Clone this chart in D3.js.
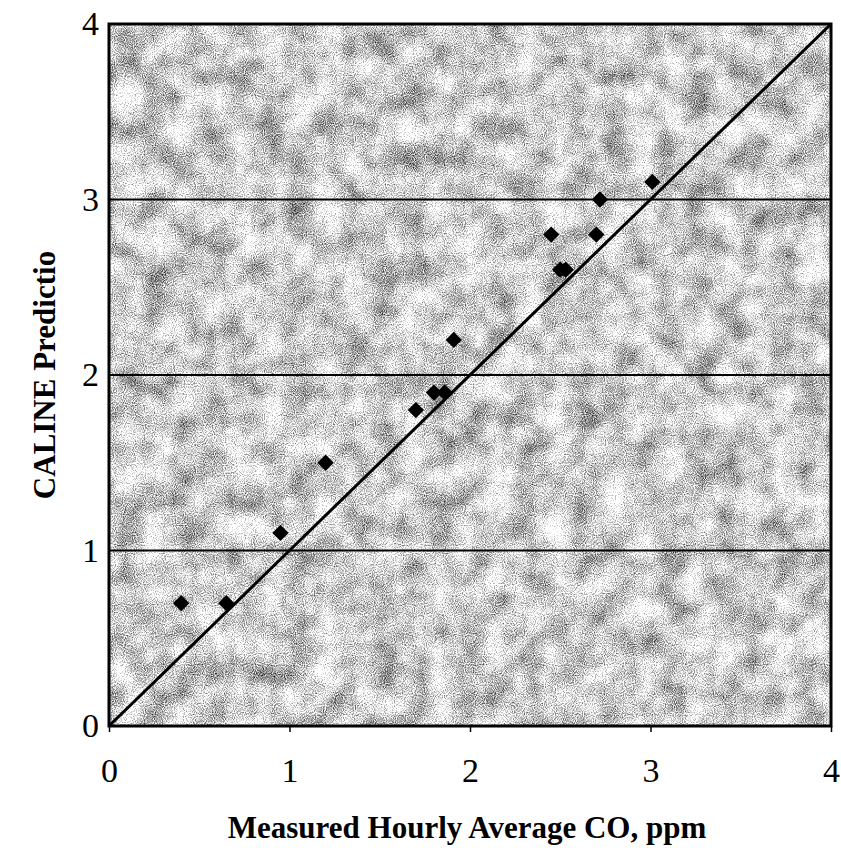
<!DOCTYPE html>
<html lang="en">
<head>
  <meta charset="UTF-8">
  <title>CALINE Prediction vs Measured CO</title>
  <script src="https://d3js.org/d3.v7.min.js"></script>
  <style>
    body { margin: 0; background: #fff; }
    text { font-family: "Liberation Serif", "Times New Roman", serif; fill: #000; }
  </style>
</head>
<body>
<div id="chart"></div>
<script>
  // Data
  const measured = [0.40, 0.65, 0.95, 1.20, 1.70, 1.80, 1.86, 1.91, 2.45, 2.50, 2.53, 2.70, 2.72, 3.01];
  const predicted = [0.70, 0.70, 1.10, 1.50, 1.80, 1.90, 1.90, 2.20, 2.80, 2.60, 2.60, 2.80, 3.00, 3.10];
  const xTicks = [0, 1, 2, 3, 4];
  const yTicks = [0, 1, 2, 3, 4];
  const gridValues = [1, 2, 3];

  const width = 841, height = 852;
  const margin = { top: 24, right: 10, bottom: 126, left: 109 };

  const svg = d3.select("#chart").append("svg")
    .attr("width", width)
    .attr("height", height);

  const x = d3.scaleLinear().domain([0, 4]).range([margin.left, width - margin.right]);
  const y = d3.scaleLinear().domain([0, 4]).range([height - margin.bottom, margin.top]);

  // blotchy, grainy gray background like the scanned plot
  const gray = "1 0 0 0 0  1 0 0 0 0  1 0 0 0 0  0 0 0 0 1";
  const defs = svg.append("defs");
  const f = defs.append("filter").attr("id", "speckle")
    .attr("x", 0).attr("y", 0).attr("width", "100%").attr("height", "100%")
    .attr("color-interpolation-filters", "sRGB");
  f.append("feTurbulence").attr("type", "fractalNoise")
    .attr("baseFrequency", 0.035).attr("numOctaves", 3).attr("seed", 4).attr("result", "b0");
  f.append("feColorMatrix").attr("in", "b0").attr("type", "matrix").attr("values", gray).attr("result", "blotch");
  f.append("feTurbulence").attr("type", "fractalNoise")
    .attr("baseFrequency", 0.9).attr("numOctaves", 1).attr("seed", 9).attr("result", "g0");
  f.append("feColorMatrix").attr("in", "g0").attr("type", "matrix").attr("values", gray).attr("result", "grain");
  f.append("feComposite").attr("in", "blotch").attr("in2", "grain")
    .attr("operator", "arithmetic")
    .attr("k1", 0).attr("k2", 0.5).attr("k3", 0.9).attr("k4", -0.2)
    .attr("result", "mix");
  f.append("feColorMatrix").attr("in", "mix").attr("type", "matrix")
    .attr("values", "1.7 0 0 0 -0.04  1.7 0 0 0 -0.04  1.7 0 0 0 -0.04  0 0 0 0 1");

  svg.append("rect")
    .attr("x", x(0)).attr("y", y(4))
    .attr("width", x(4) - x(0)).attr("height", y(0) - y(4))
    .attr("fill", "#cccccc")
    .attr("filter", "url(#speckle)");

  // horizontal gridlines
  svg.selectAll(".grid")
    .data(gridValues)
    .join("line")
    .attr("class", "grid")
    .attr("x1", x(0)).attr("x2", x(4))
    .attr("y1", d => y(d)).attr("y2", d => y(d))
    .attr("stroke", "#000")
    .attr("stroke-width", 2);

  // 1:1 line
  svg.append("line")
    .attr("x1", x(0)).attr("y1", y(0))
    .attr("x2", x(4)).attr("y2", y(4))
    .attr("stroke", "#000")
    .attr("stroke-width", 3);

  // frame
  svg.append("rect")
    .attr("x", x(0)).attr("y", y(4))
    .attr("width", x(4) - x(0)).attr("height", y(0) - y(4))
    .attr("fill", "none")
    .attr("stroke", "#000")
    .attr("stroke-width", 3);

  // axes
  const xAxis = svg.append("g")
    .attr("transform", `translate(0,${y(0)})`)
    .call(d3.axisBottom(x).tickValues(xTicks).tickSize(6).tickPadding(26).tickFormat(d3.format("d")));
  const yAxis = svg.append("g")
    .attr("transform", `translate(${x(0)},0)`)
    .call(d3.axisLeft(y).tickValues(yTicks).tickSize(0).tickPadding(10).tickFormat(d3.format("d")));

  [xAxis, yAxis].forEach(g => {
    g.attr("font-size", null);
    g.select(".domain").remove();
    g.selectAll(".tick line").attr("stroke", "#000").attr("stroke-width", 1.5);
    g.selectAll(".tick text")
      .attr("font-family", "'Liberation Serif', 'Times New Roman', serif")
      .attr("font-size", 34)
      .attr("fill", "#000");
  });

  // points (diamonds)
  const pts = measured.map((m, i) => ({ m, p: predicted[i] }));
  svg.selectAll(".pt")
    .data(pts)
    .join("path")
    .attr("class", "pt")
    .attr("d", d3.symbol().type(d3.symbolDiamond2).size(170))
    .attr("transform", d => `translate(${x(d.m)},${y(d.p)})`)
    .attr("fill", "#000");

  // axis titles
  svg.append("text")
    .attr("x", (x(0) + x(4)) / 2 - 3)
    .attr("y", 838)
    .attr("text-anchor", "middle")
    .attr("font-size", 31)
    .attr("font-weight", "bold")
    .text("Measured Hourly Average CO, ppm");

  svg.append("text")
    .attr("transform", `translate(55,${(y(0) + y(4)) / 2}) rotate(-90)`)
    .attr("text-anchor", "middle")
    .attr("font-size", 31)
    .attr("font-weight", "bold")
    .text("CALINE Predictio");
</script>
</body>
</html>
